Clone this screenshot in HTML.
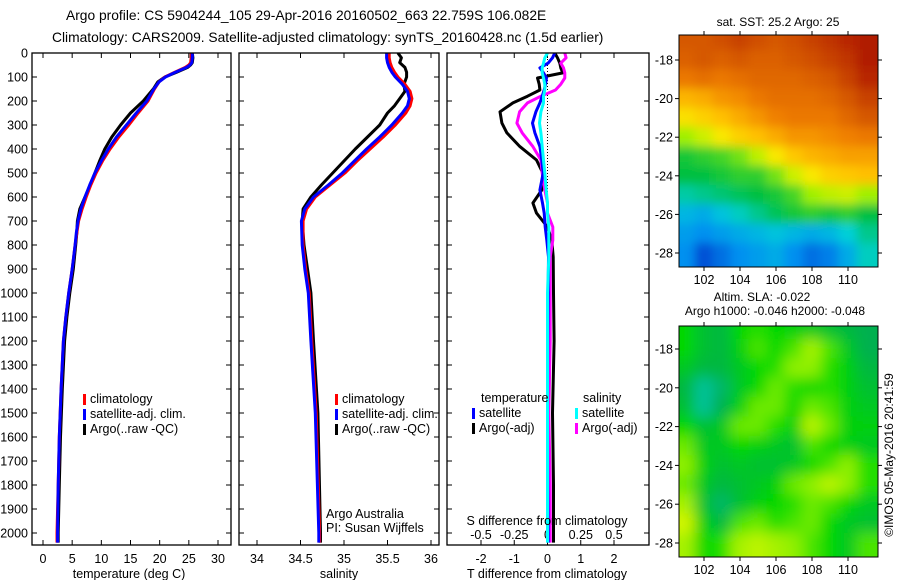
<!DOCTYPE html>
<html><head><meta charset="utf-8">
<style>
html,body{margin:0;padding:0;background:#fff;}
svg{display:block;font-family:"Liberation Sans",Arial,sans-serif;}
text{font-size:12.5px;fill:#000;}
</style></head>
<body>
<svg id="fig" width="900" height="580" viewBox="0 0 900 580" xmlns="http://www.w3.org/2000/svg">
<defs>
<clipPath id="cp1"><rect x="32" y="53" width="199" height="492"/></clipPath>
<clipPath id="cp2"><rect x="239" y="53" width="200" height="492"/></clipPath>
<clipPath id="cp3"><rect x="447" y="53" width="202" height="492"/></clipPath>
<clipPath id="cpm1"><rect x="679" y="35" width="199" height="232"/></clipPath>
<clipPath id="cpm2"><rect x="679" y="326" width="199" height="231"/></clipPath>
<filter id="bl1" x="-10%" y="-10%" width="120%" height="120%"><feGaussianBlur stdDeviation="5"/></filter>
<filter id="bl2" x="-10%" y="-10%" width="120%" height="120%"><feGaussianBlur stdDeviation="7"/></filter>
</defs>
<text x="66" y="20" style="font-size:13.8px">Argo profile: CS 5904244_105 29-Apr-2016 20160502_663 22.759S 106.082E</text>
<text x="52" y="42" style="font-size:13.8px">Climatology: CARS2009. Satellite-adjusted climatology: synTS_20160428.nc (1.5d earlier)</text>
<g id="g1"></g>
<g id="g2"></g>
<g id="g3"></g>
<g id="gm1"></g>
<g id="gm2"></g>
<text x="778" y="26" text-anchor="middle" style="font-size:12px">sat. SST: 25.2 Argo: 25</text>
<text x="762" y="301" text-anchor="middle" style="font-size:12px">Altim. SLA: -0.022</text>
<text x="775" y="315" text-anchor="middle" style="font-size:12px">Argo h1000: -0.046 h2000: -0.048</text>
<text transform="translate(893,455) rotate(-90)" text-anchor="middle" style="font-size:12px">©IMOS 05-May-2016 20:41:59</text>
</svg>
<script>
// ---------- data ----------
const depthTicks = [0,100,200,300,400,500,600,700,800,900,1000,1100,1200,1300,1400,1500,1600,1700,1800,1900,2000];
const tempTicks = [0,5,10,15,20,25,30];
const salTicks = [34,34.5,35,35.5,36];
const salTickLabels = ["34","34.5","35","35.5","36"];
const tdiffTicks = [-2,-1,0,1,2];
const sdiffTicks = [-0.5,-0.25,0,0.25,0.5];
const sdiffTickLabels = ["-0.5","-0.25","0","0.25","0.5"];

const tDepth = [0,20,40,50,60,80,100,120,150,200,250,300,350,400,450,500,550,600,650,700,750,800,900,1000,1100,1200,1400,1600,1800,2000,2040];
const tClim  = [25.4,25.4,25.3,25.0,24.4,22.6,20.9,19.9,19.1,18.0,16.3,14.7,13.0,11.5,10.2,9.1,8.2,7.4,6.7,6.1,5.8,5.5,5.0,4.4,3.9,3.5,3.1,2.8,2.6,2.4,2.4];
const tSat   = [25.6,25.6,25.5,25.2,24.6,22.7,21.0,19.9,19.0,17.8,16.0,14.3,12.6,11.2,10.0,8.9,8.0,7.2,6.5,6.0,5.7,5.5,5.0,4.4,3.9,3.5,3.1,2.8,2.6,2.5,2.5];
const tArgo  = [25.6,25.7,25.6,25.3,24.8,22.9,20.9,19.7,18.9,17.2,15.0,13.3,11.8,10.6,9.7,8.9,8.1,7.2,6.3,5.9,5.8,5.6,5.2,4.6,4.1,3.7,3.3,3.0,2.8,2.6,2.6];

const sDepth = [0,20,40,60,80,100,130,160,190,220,250,300,350,400,450,500,550,600,650,700,800,900,1000,1200,1500,2000,2040];
const sClim  = [35.52,35.52,35.53,35.55,35.58,35.62,35.70,35.76,35.78,35.76,35.71,35.59,35.45,35.30,35.15,35.01,34.84,34.67,34.57,34.53,34.53,34.56,34.60,34.63,34.68,34.72,34.72];
const sSat   = [35.49,35.49,35.50,35.52,35.55,35.59,35.67,35.73,35.75,35.73,35.67,35.55,35.41,35.26,35.12,34.98,34.82,34.65,34.55,34.51,34.52,34.55,34.59,34.62,34.67,34.71,34.71];
const sArgo  = [35.62,35.66,35.64,35.70,35.72,35.72,35.69,35.70,35.64,35.58,35.50,35.41,35.27,35.13,35.00,34.87,34.74,34.62,34.53,34.52,34.54,34.58,34.62,34.65,34.70,34.73,34.73];

const dDepth = [0,20,42,62,83,104,130,154,180,208,245,292,333,390,446,500,571,625,667,725,780,850,1000,1200,1500,1800,2000,2040];
const dTsat  = [0.22,0.15,0.02,-0.23,-0.12,-0.03,-0.06,-0.10,-0.16,-0.23,-0.35,-0.45,-0.38,-0.23,-0.17,-0.13,-0.23,-0.15,-0.10,-0.07,-0.02,0.03,0.02,0.01,0.0,0.01,0.02,0.02];
const dTargo = [0.22,0.30,0.37,0.40,0.46,-0.30,-0.25,-0.23,-0.60,-1.04,-1.43,-1.37,-1.22,-0.83,-0.33,-0.14,-0.17,-0.44,-0.33,0.0,0.13,0.17,0.18,0.20,0.15,0.18,0.18,0.18];
const dSsat  = [0.0,-0.02,-0.03,-0.04,-0.04,-0.03,-0.02,-0.02,-0.03,-0.03,-0.05,-0.06,-0.05,-0.04,-0.03,-0.02,-0.01,0.0,0.0,0.01,0.01,0.01,0.0,0.0,0.0,0.0,0.0,0.0];
const dSargo = [0.13,0.14,0.10,0.12,0.13,0.13,0.10,0.06,-0.05,-0.15,-0.21,-0.23,-0.19,-0.11,-0.05,-0.04,-0.02,0.0,0.0,0.04,0.04,0.02,0.02,0.02,0.01,0.02,0.02,0.02];

const lonTicks = [102,104,106,108,110];
const latTicks = [-18,-20,-22,-24,-26,-28];
const mapLons = [101,102,103,104,105,106,107,108,109,110,111];
const mapLats = [-17,-18,-19,-20,-21,-22,-23,-24,-25,-26,-27,-28];
const sstRows = [
[26.3,26.3,26.4,26.5,26.4,26.3,26.4,26.5,26.6,26.7,26.8],
[26.2,26.3,26.2,26.3,26.2,26.2,26.3,26.4,26.5,26.6,26.8],
[25.9,26.0,25.9,26.0,26.1,26.1,26.1,26.2,26.3,26.5,26.7],
[25.3,25.4,25.6,25.7,25.9,26.0,26.0,26.0,26.1,26.3,26.5],
[24.8,25.0,25.2,25.4,25.6,25.8,25.9,25.9,25.9,26.1,26.3],
[24.0,24.3,24.7,25.0,25.2,25.4,25.6,25.6,25.7,25.8,25.9],
[23.4,23.5,23.6,23.8,24.2,24.7,25.1,25.3,25.4,25.5,25.5],
[23.3,23.3,23.4,23.5,23.5,23.8,24.3,24.7,25.0,25.1,25.2],
[22.9,23.0,23.1,23.2,23.3,23.4,23.6,24.0,24.2,24.3,24.0],
[22.5,22.4,22.6,22.8,23.0,23.2,23.4,23.5,23.4,23.5,23.3],
[22.3,22.2,22.3,22.4,22.5,22.6,22.5,22.4,22.5,22.7,23.0],
[22.2,21.8,22.0,22.2,22.3,22.4,22.2,22.0,22.1,22.4,22.8]];
const slaRows = [
[0,-0.03,-0.04,0,0.01,0,-0.01,-0.02,-0.03,-0.04,-0.05],
[0,-0.03,-0.04,-0.01,0.02,0,0.02,0.05,0.02,-0.02,-0.05],
[-0.02,-0.04,-0.04,-0.02,0,0.01,0.04,0.04,0.01,-0.01,-0.04],
[-0.04,-0.08,-0.06,-0.02,0,0.03,0.01,0,0.01,-0.01,-0.03],
[-0.03,-0.08,-0.05,-0.01,0.03,0.03,0,0.03,0.02,-0.01,-0.02],
[0,-0.03,-0.02,0.03,0.03,0.01,-0.01,0.06,0.03,-0.01,-0.01],
[0.03,-0.02,-0.02,0,-0.01,-0.02,-0.03,0.02,0,-0.01,-0.02],
[0.04,-0.01,-0.03,-0.02,-0.03,-0.03,-0.02,0,0.02,0.04,0.01],
[0.03,-0.02,-0.04,-0.03,-0.02,-0.01,0.03,0.04,0.06,0.04,0.01],
[0.05,-0.03,-0.06,-0.03,-0.01,0,0.01,0.03,0.02,0,-0.02],
[0.07,-0.01,-0.04,0.02,0.03,0.01,0.02,0.03,0,-0.02,-0.03],
[0.05,0,0.01,0.05,0.06,0.05,0.04,0.02,0,-0.02,0.02]];

// ---------- helpers ----------
const NS = "http://www.w3.org/2000/svg";
function mk(tag, attrs, parent){const e=document.createElementNS(NS,tag);for(const k in attrs)e.setAttribute(k,attrs[k]);parent.appendChild(e);return e;}
function lin(d0,d1,r0,r1){return v=>r0+(v-d0)*(r1-r0)/(d1-d0);}
const yD = lin(0,2000,53,533);

function frame(g,x0,x1,y0,y1){
  const r=mk('rect',{x:x0,y:y0,width:x1-x0,height:y1-y0,fill:'none',stroke:'#000','stroke-width':1.3},g);
  
  
}
function yTicks(g,x0,x1,labels){
  depthTicks.forEach(d=>{
    const y=yD(d);
    mk('line',{x1:x0,x2:x0+5,y1:y,y2:y,stroke:'#000'},g);
    mk('line',{x1:x1-5,x2:x1,y1:y,y2:y,stroke:'#000'},g);
    if(labels){const t=mk('text',{x:28,y:y+4.5,'text-anchor':'end'},g);t.textContent=d;
      
      }
  });
}
function xTicks(g,vals,labs,sx,y0,y1,ly,labName){
  vals.forEach((v,i)=>{
    const x=sx(v);
    mk('line',{x1:x,x2:x,y1:y1,y2:y1-5,stroke:'#000'},g);
    mk('line',{x1:x,x2:x,y1:y0,y2:y0+5,stroke:'#000'},g);
    if(ly){const t=mk('text',{x:x,y:ly,'text-anchor':'middle'},g);t.textContent=labs[i];
      
      }
  });
}
function stepPath(xs,ds,sx){
  let p='';
  for(let i=0;i<xs.length;i++){const x=sx(xs[i]).toFixed(1),y=yD(ds[i]).toFixed(1);p+=(i?'L':'M')+x+' '+y;}
  return p;
}
function series(g,xs,ds,sx,color,w,name,clip){
  const p=mk('path',{d:stepPath(xs,ds,sx),fill:'none',stroke:color,'stroke-width':w,'stroke-linejoin':'round','clip-path':clip},g);
  
  
}
function legendEntry(g,x,y,color,label,name){
  mk('rect',{x:x,y:y-9,width:3,height:11,fill:color},g);
  const t=mk('text',{x:x+7,y:y},g);t.textContent=label;
  
  
}
function label(g,x,y,txt,name,anchor){
  const t=mk('text',{x:x,y:y,'text-anchor':anchor||'middle'},g);t.textContent=txt;
  
  
}

// ---------- panel 1: temperature ----------
const g1=document.getElementById('g1');
const xT=lin(0,30,43,218);
yTicks(g1,32,231,true);
xTicks(g1,tempTicks,tempTicks,xT,53,545,563,'temperature-tick-label');
series(g1,tArgo,tDepth,xT,'#000',3,'temperature-argo-line','url(#cp1)');
series(g1,tClim,tDepth,xT,'#f00',3,'temperature-climatology-line','url(#cp1)');
series(g1,tSat,tDepth,xT,'#00f',3,'temperature-satellite-line','url(#cp1)');
frame(g1,32,231,53,545);
label(g1,129,578,'temperature (deg C)','temperature-axis-title');
legendEntry(g1,83,403,'#f00','climatology','legend-climatology');
legendEntry(g1,83,418,'#00f','satellite-adj. clim.','legend-satellite-adj');
legendEntry(g1,83,433,'#000','Argo(..raw -QC)','legend-argo');

// ---------- panel 2: salinity ----------
const g2=document.getElementById('g2');
const xS=lin(34,36,257,431);
yTicks(g2,239,439,false);
xTicks(g2,salTicks,salTickLabels,xS,53,545,563,'salinity-tick-label');
series(g2,sArgo,sDepth,xS,'#000',3,'salinity-argo-line','url(#cp2)');
series(g2,sClim,sDepth,xS,'#f00',3,'salinity-climatology-line','url(#cp2)');
series(g2,sSat,sDepth,xS,'#00f',3,'salinity-satellite-line','url(#cp2)');
frame(g2,239,439,53,545);
label(g2,339,578,'salinity','salinity-axis-title');
legendEntry(g2,335,403,'#f00','climatology','legend-climatology-2');
legendEntry(g2,335,418,'#00f','satellite-adj. clim.','legend-satellite-adj-2');
legendEntry(g2,335,433,'#000','Argo(..raw -QC)','legend-argo-2');
label(g2,326,518,'Argo Australia','credit-argo-australia','start');
label(g2,326,532,'PI: Susan Wijffels','credit-pi','start');

// ---------- panel 3: differences ----------
const g3=document.getElementById('g3');
const xDT=lin(-2,2,481,614);
const xDS=lin(-0.5,0.5,481,614);
yTicks(g3,447,649,false);
xTicks(g3,tdiffTicks,tdiffTicks,xDT,53,545,563,'t-difference-tick-label');
sdiffTicks.forEach((v,i)=>label(g3,xDS(v),539,sdiffTickLabels[i],'s-difference-tick-label'));
const zl=mk('line',{x1:xDT(0),x2:xDT(0),y1:53,y2:545,stroke:'#000','stroke-dasharray':'1,2'},g3);


series(g3,dTargo,dDepth,xDT,'#000',3,'t-diff-argo-line','url(#cp3)');
series(g3,dSargo,dDepth,xDS,'#f0f',3,'s-diff-argo-line','url(#cp3)');
series(g3,dTsat,dDepth,xDT,'#00f',3,'t-diff-satellite-line','url(#cp3)');
series(g3,dSsat,dDepth,xDS,'#0ff',3,'s-diff-satellite-line','url(#cp3)');
frame(g3,447,649,53,545);
label(g3,547,525,'S difference from climatology','s-difference-axis-title');
label(g3,547,578,'T difference from climatology','t-difference-axis-title');
label(g3,481,402,'temperature','legend-temperature-heading','start');
label(g3,583,402,'salinity','legend-salinity-heading','start');
legendEntry(g3,472,417,'#00f','satellite','legend-t-satellite');
legendEntry(g3,472,432,'#000','Argo(-adj)','legend-t-argo');
legendEntry(g3,575,417,'#0ff','satellite','legend-s-satellite');
legendEntry(g3,575,432,'#f0f','Argo(-adj)','legend-s-argo');

// ---------- maps ----------
function hexToRgb(h){return [parseInt(h.substr(1,2),16),parseInt(h.substr(3,2),16),parseInt(h.substr(5,2),16)];}
function cmap(stops){return v=>{
  if(v<=stops[0][0])return stops[0][1];
  for(let i=1;i<stops.length;i++){if(v<=stops[i][0]){const f=(v-stops[i-1][0])/(stops[i][0]-stops[i-1][0]);
    const a=hexToRgb(stops[i-1][1]),b=hexToRgb(stops[i][1]);
    return 'rgb('+a.map((c,k)=>Math.round(c+(b[k]-c)*f)).join(',')+')';}}
  return stops[stops.length-1][1];};}
const sstCol=cmap([[21.5,'#0020c0'],[22.2,'#0090f0'],[22.7,'#00d0d8'],[23.3,'#00c040'],[24.0,'#a0f000'],[24.6,'#f8f000'],[25.2,'#ffc000'],[25.8,'#f08000'],[26.4,'#d05000'],[27,'#a00000']]);
const slaCol=cmap([[-0.09,'#00c8b0'],[-0.05,'#00b050'],[0,'#00d800'],[0.04,'#90f000'],[0.08,'#e8f800']]);

function drawMap(gid,rows,col,y0,y1,clip,filt,name){
  const g=document.getElementById(gid);
  const xL=lin(102,110,704,848), yL=lin(-18,-28,y0,y1);
  const mapTop = gid==='gm1'?35:326, mapBot = gid==='gm1'?267:557;
  const cg=mk('g',{'clip-path':clip},g);
  const bg=mk('g',{filter:filt},cg);
  const nr=rows.length, nc=rows[0].length;
  rows.forEach((row,ri)=>row.forEach((v,ci)=>{
    const cx=xL(mapLons[ci]), cy=yL(mapLats[ri]);
    // edge cells are extended outward so the blur doesn't fade at borders
    const padL = ci===0?30:0, padR = ci===nc-1?30:0, padT = ri===0?30:0, padB = ri===nr-1?30:0;
    const r=mk('rect',{x:cx-9.5-padL,y:cy-10.2-padT,width:19+padL+padR,height:20.4+padT+padB,fill:col(v)},bg);
    
    
  }));
  const fr=mk('rect',{x:679,y:mapTop,width:199,height:mapBot-mapTop,fill:'none',stroke:'#000','stroke-width':1},g);
  
  
  lonTicks.forEach(v=>{const x=xL(v);
    mk('line',{x1:x,x2:x,y1:mapTop,y2:mapTop-4,stroke:'#000'},g);
    mk('line',{x1:x,x2:x,y1:mapBot,y2:mapBot+4,stroke:'#000'},g);
    label(g,x,mapBot+17,String(v),name+'-lon-label');});
  latTicks.forEach(v=>{const y=yL(v);
    mk('line',{x1:679,x2:675,y1:y,y2:y,stroke:'#000'},g);
    mk('line',{x1:878,x2:882,y1:y,y2:y,stroke:'#000'},g);
    label(g,673,y+4.5,String(v),name+'-lat-label','end');});
}
drawMap('gm1',sstRows,sstCol,60,253,'url(#cpm1)','url(#bl1)','sst-map');
drawMap('gm2',slaRows,slaCol,349,543,'url(#cpm2)','url(#bl2)','sla-map');
</script>
</body></html>
